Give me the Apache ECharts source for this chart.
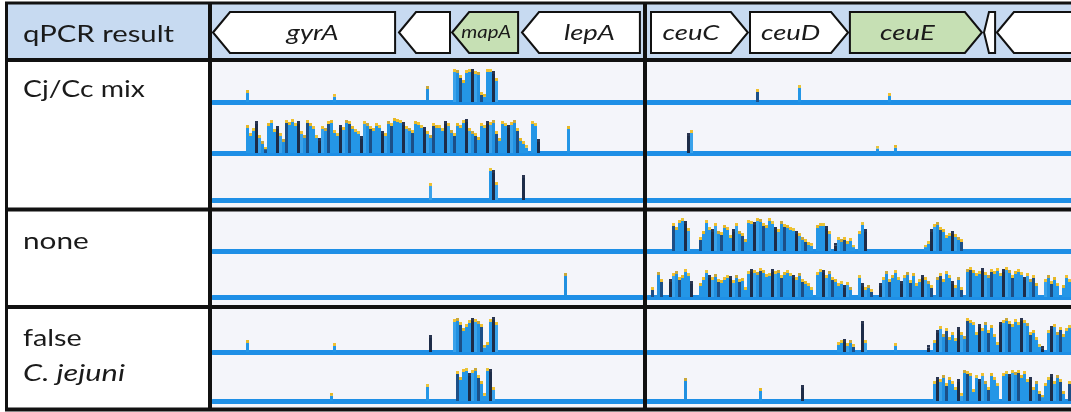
<!DOCTYPE html>
<html><head><meta charset="utf-8">
<script src="https://cdn.jsdelivr.net/npm/echarts@6/dist/echarts.min.js"></script>
<style>html,body{margin:0;padding:0;background:#fff}#c{width:1071px;height:412px}</style>
</head><body><div id="c"></div>
<script>
// ---------------- DATA ----------------
const headerTitle = 'qPCR result';
const rowLabels = ['Cj/Cc mix', 'none', 'false'];
const rowSubLabels = ['', '', 'C. jejuni'];

// genes: [start bin, end bin, strand, highlighted, name]
const genesLeft = [
  [0, 60.7, -1, 0, 'gyrA'],
  [62, 79, -1, 0, ''],
  [79.7, 101.7, -1, 1, 'mapA'],
  [103, 142.3, -1, 0, 'lepA']
];
const genesRight = [
  [1, 33.3, 1, 0, 'ceuC'],
  [34, 66.7, 1, 0, 'ceuD'],
  [67.3, 111.3, 1, 1, 'ceuE'],
  [112, 115.7, -1, 0, ''],
  [116.3, 152, -1, 0, '']
];

// coverage runs: [first bin, [depth per bin ...]]
const cjcc1_left = [[11, [12]], [40, [8]], [71, [16]],
  [80, [33, 32, 27, 22, 32, 33, 33, 31, 30, 10, 8, 33, 33, 31, 24]]];
const cjcc1_right = [[36, [13]], [50, [17]], [80, [9]]];
const cjcc2_left = [[11, [28, 20, 25, 32, 18, 12, 6]],
  [18, [30, 33, 24, 27, 20, 14, 33, 31, 34, 30,
        32, 22, 18, 33, 30, 27, 18, 15, 27, 25,
        32, 33, 23, 20, 28, 26, 33, 32, 27, 24,
        22, 17, 32, 30, 27, 25, 30, 28, 22, 20,
        32, 30, 35, 34, 33, 31, 27, 25, 23, 32,
        31, 28, 26, 22, 18, 30, 28, 28, 25, 32,
        30, 23, 20, 30, 28, 33, 34, 25, 22, 20,
        16, 30, 28, 32, 31, 33, 22, 15, 32, 30,
        28, 31, 33, 25, 15, 12, 8]],
  [106, [32, 30, 14]], [118, [27]]];
const cjcc2_right = [[13, [20, 23]], [76, [7]], [82, [8]]];
const cjcc3_left = [[72, [17]], [92, [32, 30, 18]], [103, [25]]];
const cjcc3_right = [];
const none1_left = [];
const none1_right = [[8, [28, 24, 31, 33, 30, 23]],
  [17, [14, 20, 31, 24, 22, 28, 20, 19, 26, 24, 16, 22, 28, 20, 18, 12]],
  [33, [31, 30, 29, 33, 32, 28, 26, 33, 30, 24, 22, 30, 27, 26, 24, 23, 20, 18, 14, 12, 9, 8]],
  [56, [26, 28, 28, 25, 20]], [62, [8, 14, 12, 14, 10, 13, 6]], [70, [20, 29, 22]],
  [92, [6, 10, 22, 27, 29, 24, 22, 16, 18, 20, 17, 14, 12]]];
const none2_left = [[117, [24]]];
const none2_right = [[1, [10]], [3, [25, 18]], [7, [18, 24, 26, 20, 22, 28, 24, 16]],
  [17, [14, 20, 27, 22, 20, 23, 18, 17, 20, 22, 21, 17, 22, 18, 19, 10]],
  [33, [26, 28, 27, 25, 29, 27, 23, 24, 28, 26, 27, 22, 25, 27, 24, 22, 20, 24, 18, 16, 14, 10]],
  [56, [25, 28, 27, 22, 26, 20, 18, 14, 16, 12, 15, 10]], [70, [22, 14, 10, 12, 8]],
  [77, [14, 20, 26, 18, 22, 27, 20, 16, 22, 25, 17, 24, 14, 18, 22, 20, 16, 12]],
  [96, [20, 24, 18, 26, 22, 16, 12, 20, 10]],
  [106, [28, 30, 27, 24, 26, 29, 25, 22, 28, 26, 29, 24, 28, 30, 27, 22, 26, 28, 25, 20, 24, 18, 22, 14]],
  [132, [18, 22, 16, 20, 14]], [138, [12, 22, 18]]];
const false1_left = [[11, [12]], [40, [9]], [72, [17]],
  [80, [33, 34, 30, 24, 28, 32, 34, 33, 31, 28, 7, 10, 33, 35, 30]]];
const false1_right = [[63, [10, 12, 13, 9, 12, 8]], [71, [31, 12]], [82, [9]], [93, [7]],
  [95, [12, 22, 26, 18, 24, 15, 20, 14, 25, 20, 16, 34, 32, 30, 20, 28, 24, 30, 22, 27, 18, 10,
        30, 32, 34, 31, 28, 33, 30, 34, 32, 29, 20, 22, 15, 8, 6]],
  [133, [22, 26, 28, 20, 25, 18, 24, 27, 20]]];
const false2_left = [[39, [8]], [71, [17]], [81, [30, 24, 32, 33, 28, 31, 33, 26, 20, 8, 33, 32, 14]]];
const false2_right = [[12, [23]], [37, [13]], [51, [16]],
  [95, [20, 24, 22, 26, 18, 24, 20, 14, 22, 8, 31, 30, 28, 12, 26, 22, 28, 20, 14, 28, 24, 18]],
  [118, [28, 30, 27, 31, 29, 31, 26, 30, 22, 24, 14, 20, 10, 6, 18, 24, 27, 20, 26, 22, 10]],
  [140, [20]]];

const trackData = [
  [cjcc1_left, cjcc1_right], [cjcc2_left, cjcc2_right], [cjcc3_left, cjcc3_right],
  [none1_left, none1_right], [none2_left, none2_right],
  [false1_left, false1_right], [false2_left, false2_right]
];

// ---------------- LAYOUT / STYLE ----------------
const PANEL = [{ left: 213, width: 429, bins: 143 }, { left: 648, width: 423, bins: 141 }];
const trackBottoms = [102, 153, 200, 251, 297, 352, 401];
const TRACK_H = 40;
const FONT = 'Lato, "Open Sans", sans-serif';
const BODY = ['#2496e6', '#2496e6', '#1d2c48', '#3aa2ea', '#2190e0', '#1c4f87', '#2496e6'];
const CAPS = ['#f0c030', '#e9c53a', '#2a3550', '#f0c030', '#c9a83a', '#f0c030', '#e6b826'];

function expand(runs) {
  const out = [];
  runs.forEach(r => r[1].forEach((h, i) => { if (h > 0) out.push([r[0] + i, h]); }));
  return out;
}

function renderCov(params, api) {
  const bin = api.value(0), h = api.value(1);
  const p0 = api.coord([bin, 0]);
  const p1 = api.coord([bin + 1, h]);
  const x = p0[0], w = p1[0] - p0[0];
  const yb = p0[1], yt = p1[1];
  const cap = Math.min(3, (yb - yt) * 0.35);
  const k = (Math.round(bin) * 5 + params.dataIndex * 3) % 7;
  return {
    type: 'group', children: [
      { type: 'rect', shape: { x: x, y: yt + cap, width: w, height: yb - yt - cap }, style: { fill: BODY[k] } },
      { type: 'rect', shape: { x: x, y: yt, width: w, height: cap }, style: { fill: CAPS[k] } }
    ]
  };
}

function renderGene(params, api) {
  const s = api.coord([api.value(0), 0])[0];
  const e = api.coord([api.value(1), 0])[0];
  const strand = api.value(2), hl = api.value(3);
  const name = api.value(4);
  const cs = params.coordSys;
  const top = cs.y, bot = cs.y + cs.height, mid = (top + bot) / 2;
  const head = Math.min(17, (e - s) * 0.45);
  let pts, cx;
  if (strand < 0) {
    pts = [[s, mid], [s + head, top], [e, top], [e, bot], [s + head, bot]];
    cx = (s + head + e) / 2;
  } else {
    pts = [[s, top], [e - head, top], [e, mid], [e - head, bot], [s, bot]];
    cx = (s + e - head) / 2;
  }
  const children = [{
    type: 'polygon', shape: { points: pts },
    style: { fill: hl ? '#c6e0b4' : '#ffffff', stroke: '#111111', lineWidth: 2, lineJoin: 'miter' }
  }];
  if (name) {
    const small = (e - s) < 80;
    children.push({
      type: 'text', x: small ? (s + e) / 2 + 1 : cx, y: mid, scaleX: small ? 1.2 : 1.25,
      style: { text: name, fill: '#1a1a1a', font: 'italic ' + (small ? 17 : 22) + 'px ' + FONT, align: 'center', verticalAlign: 'middle' }
    });
  }
  return { type: 'group', children: children };
}

const grids = [], xAxes = [], yAxes = [], series = [];
// header grids
[genesLeft, genesRight].forEach((genes, p) => {
  const gi = grids.length;
  grids.push({ left: PANEL[p].left, width: PANEL[p].width, top: 12, height: 41 });
  xAxes.push({ gridIndex: gi, type: 'value', min: 0, max: PANEL[p].bins, show: false });
  yAxes.push({ gridIndex: gi, type: 'value', min: 0, max: 1, show: false });
  series.push({
    type: 'custom', xAxisIndex: gi, yAxisIndex: gi, renderItem: renderGene, silent: true, clip: false,
    data: genes, z: 5
  });
});
// track grids
trackData.forEach((pair, t) => {
  pair.forEach((runs, p) => {
    const gi = grids.length;
    grids.push({ left: PANEL[p].left, width: PANEL[p].width, top: trackBottoms[t] - TRACK_H, height: TRACK_H });
    xAxes.push({
      gridIndex: gi, type: 'value', min: 0, max: PANEL[p].bins, offset: 2,
      axisLine: { show: true, lineStyle: { color: '#1e8fe6', width: 5 } },
      axisTick: { show: false }, axisLabel: { show: false }, splitLine: { show: false }
    });
    yAxes.push({ gridIndex: gi, type: 'value', min: 0, max: TRACK_H, show: false });
    series.push({
      type: 'custom', xAxisIndex: gi, yAxisIndex: gi, renderItem: renderCov, silent: true,
      data: expand(runs)
    });
  });
});

const line = (x1, y1, x2, y2, w) => ({ type: 'line', z: 100, shape: { x1, y1, x2, y2 }, style: { stroke: '#111111', lineWidth: w } });
const label = (text, x, y, italic, sx) => ({
  type: 'text', z: 100, x: x, y: y, scaleX: sx,
  style: { text: text, fill: '#1a1a1a', font: (italic ? 'italic ' : '') + '24px ' + FONT, verticalAlign: 'middle' }
});

const graphics = [
  { type: 'rect', z: -10, shape: { x: 6, y: 3, width: 1065, height: 57 }, style: { fill: '#c7daf1' } },
  { type: 'rect', z: -10, shape: { x: 210, y: 60, width: 435, height: 350 }, style: { fill: '#f4f5fa' } },
  { type: 'rect', z: -10, shape: { x: 645, y: 60, width: 426, height: 350 }, style: { fill: '#f4f5fa' } },
  line(5, 3, 1071, 3, 3),
  line(5, 60, 1071, 60, 4),
  line(5, 209.5, 1071, 209.5, 4),
  line(5, 307, 1071, 307, 4),
  line(5, 409.5, 1071, 409.5, 4),
  line(6.5, 2, 6.5, 411, 3),
  line(210, 2, 210, 411, 4),
  line(645, 2, 645, 411, 4),
  label(headerTitle, 23, 34, false, 1.22),
  label(rowLabels[0], 23, 89, false, 1.18),
  label(rowLabels[1], 23, 241, false, 1.24),
  label(rowLabels[2], 23, 338, false, 1.2),
  label(rowSubLabels[2], 23, 373, true, 1.28)
];

const chart = echarts.init(document.getElementById('c'));
chart.setOption({
  animation: false,
  backgroundColor: '#ffffff',
  grid: grids, xAxis: xAxes, yAxis: yAxes, series: series,
  graphic: { elements: graphics }
});
</script></body></html>
